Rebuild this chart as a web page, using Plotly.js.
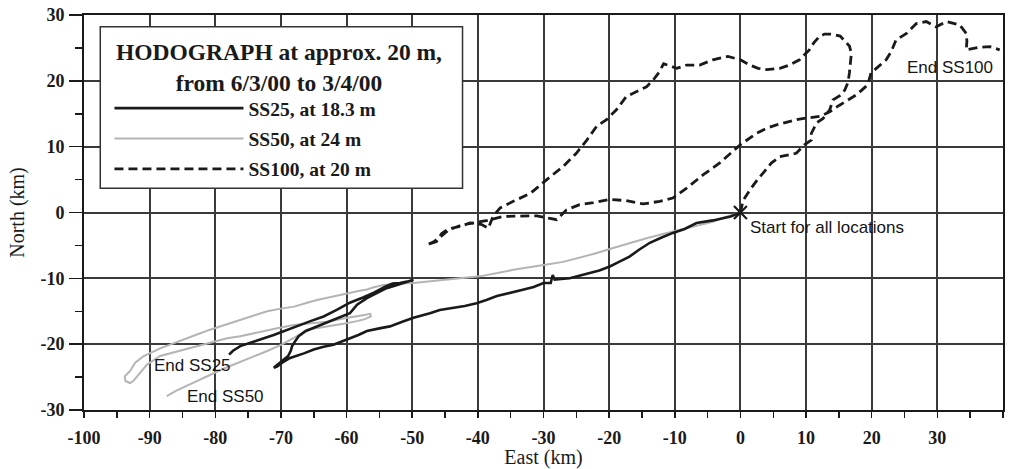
<!DOCTYPE html>
<html>
<head>
<meta charset="utf-8">
<script src="https://cdn.plot.ly/plotly-3.0.1.min.js"></script>
<style>
  html, body { margin: 0; padding: 0; background: #fff; }
  #chart { width: 1011px; height: 469px; }
</style>
</head>
<body>
<div id="chart"></div>
<script>
// ---- Data (km) ----
const ss25East = [0, -1.5, -4.2, -6.7, -8.5, -10.3, -12, -13.8, -15.5, -16.9, -18.5, -19.9, -21.5, -22.9, -24.5, -26, -27.3, -28.3, -28.6, -28.9, -30, -31.5, -33, -35, -37.1, -38.7, -40.2, -42, -43.7, -45.8, -47.3, -49.8, -51.5, -53.4, -55, -56.9, -58.2, -59.5, -60.8, -62, -63.5, -65, -66.5, -67.6, -68.6, -69.8, -70.6, -71.1, -70.4, -69.5, -68.9, -68.5, -68.3, -67.8, -67.3, -66.2, -65, -63.5, -62, -60.8, -59.5, -58.9, -58.4, -56.9, -55.4, -53.9, -52.3, -50.8, -49.8, -50.8, -51.9, -53, -54.2, -55.9, -57.5, -59.5, -61.5, -63.5, -65.5, -67.6, -69.3, -71.1, -73.5, -76.2, -77.3, -77.9];
const ss25North = [0, -0.6, -1.2, -1.6, -2.5, -3.1, -3.8, -4.6, -5.7, -6.7, -7.5, -8.2, -8.8, -9.2, -9.6, -10, -10.1, -10.2, -9.5, -10.7, -10.7, -11.3, -11.7, -12.2, -12.7, -13.3, -13.8, -14.2, -14.5, -14.8, -15.3, -16, -16.6, -17.3, -17.6, -18, -18.6, -19.1, -19.6, -20.1, -20.4, -20.8, -21.4, -21.8, -22.1, -22.8, -23.4, -23.6, -23, -22.3, -21.8, -21, -20.3, -19.5, -18.8, -18, -17.5, -16.9, -16.3, -15.8, -15.3, -14.6, -14, -13, -12.2, -11.5, -11, -10.5, -10.2, -10.5, -10.7, -10.8, -11.3, -12.2, -12.9, -13.7, -14.8, -15.8, -16.5, -17.3, -17.9, -18.6, -19.4, -20.3, -21, -21.6];

const ss50East = [0, -2, -4.2, -6.5, -9.2, -11.5, -14.3, -16.8, -19.4, -22, -24.5, -27, -29.5, -32, -34.6, -37, -39.7, -42, -44.7, -47, -49.8, -52, -54.4, -56, -56.9, -58, -59.5, -61, -63, -64.5, -66, -68, -70, -72.1, -74, -76.2, -78.5, -80.8, -83, -85.8, -88.3, -90.9, -92.2, -93, -93.8, -93.7, -93, -92.5, -91.9, -90.4, -88.4, -85.8, -83, -80.8, -78.2, -76.2, -73.2, -71.1, -68.1, -66, -63, -60.5, -59, -57.5, -56.4, -56.3, -57.2, -58.4, -60.5, -62.5, -64, -66, -68.1, -70, -72, -74, -76.2, -78.2, -80, -82, -84.3, -86, -87.4];
const ss50North = [0, -0.6, -1.4, -2, -2.6, -3.2, -3.9, -4.6, -5.4, -6.2, -6.9, -7.5, -7.9, -8.3, -8.7, -9.2, -9.7, -9.9, -10.2, -10.4, -10.7, -10.8, -11, -11.4, -11.7, -11.9, -12.2, -12.6, -13, -13.3, -13.7, -14.3, -14.6, -15, -15.6, -16.3, -17, -17.8, -18.6, -19.6, -20.6, -21.8, -22.8, -24.1, -24.9, -25.6, -25.9, -25.6, -24.9, -23.1, -21.8, -21.1, -20.4, -19.8, -19.1, -18.8, -18.1, -17.7, -17.1, -16.9, -16.6, -16.1, -15.9, -15.6, -15.4, -15.8, -16.2, -16.5, -16.9, -17.2, -17.4, -17.8, -19.1, -20.1, -21, -21.8, -22.6, -23.5, -24.3, -25.2, -26.3, -27.1, -27.9];

const ss100East = [0, 0.4, 1.5, 2.6, 3.7, 4.7, 6, 7.3, 8.5, 9.8, 10.8, 10.8, 11.6, 12.6, 13.6, 14.1, 15.2, 15.9, 16.4, 16.6, 16.9, 16.6, 16.1, 15.2, 13.9, 12.8, 12, 11.2, 10.5, 9, 7.5, 6, 4, 2.7, 1.4, 0, -1.9, -4.2, -6.2, -8.2, -9.7, -11.7, -12.4, -13.3, -14.3, -16, -17.4, -18.9, -20.4, -21.9, -23.4, -25, -27, -29.5, -32, -34.6, -36.6, -37.7, -38.4, -39.5, -41.2, -42.7, -44.5, -45.5, -46.3, -47.8, -46.8, -45.8, -44.5, -42.5, -40.2, -38.5, -36.1, -33.6, -31, -29, -28, -26.5, -24.5, -22.4, -19.9, -17.4, -14.8, -12.3, -10.3, -8.2, -5.7, -3.2, -1.5, 0, 2.4, 4, 5.5, 7.5, 9, 12.1, 13.6, 15.1, 17.7, 19.4, 19.9, 20.7, 22.2, 23, 23.7, 25.3, 26.8, 28.3, 29.8, 31.4, 33.4, 34.4, 34.5, 34.4, 36.4, 38, 39.5];
const ss100North = [0, 1.8, 3.5, 5, 6.3, 7.5, 8.5, 8.8, 9, 10.3, 11, 12, 13.6, 14.3, 15.6, 17.1, 17.8, 18.6, 19.8, 21.2, 24.2, 25.3, 25.9, 26.8, 27.1, 27.1, 26.7, 25.8, 24.7, 23.2, 22.4, 21.9, 21.7, 21.9, 22.4, 23.2, 23.7, 23.2, 22.4, 22.4, 21.9, 22.6, 21.3, 20.1, 19.1, 18.3, 17.6, 15.6, 14.1, 13.1, 11, 9, 7, 5, 2.9, 1.7, 0.7, -0.6, -2.4, -1.8, -1.6, -2.1, -2.5, -3.2, -4.4, -4.9, -4.5, -3.8, -2.7, -1.9, -1.5, -1.2, -0.6, -0.5, -0.5, -0.9, -1.1, 0.4, 1.2, 1.5, 2, 1.8, 1.3, 1.7, 2.2, 3.7, 5.7, 7.5, 9, 10.3, 12, 12.8, 13.3, 13.8, 14.2, 14.6, 15.3, 16.3, 17.9, 19.4, 21.2, 21.9, 23.2, 24.5, 26.2, 27.2, 28.7, 29, 28.2, 29, 28.5, 27.2, 26, 24.7, 25.1, 25.2, 24.7];

const startEast = [0];
const startNorth = [0];

const seriesNames = ["SS25, at 18.3 m", "SS50, at 24 m", "SS100, at 20 m"];
const legendTitle = "HODOGRAPH at approx. 20 m,<br>from 6/3/00 to 3/4/00";
const labelTexts = ["Start for all locations", "End SS100", "End SS25", "End SS50"];

const xTickVals = [-100, -90, -80, -70, -60, -50, -40, -30, -20, -10, 0, 10, 20, 30, 40];
const xTickText = ["-100", "-90", "-80", "-70", "-60", "-50", "-40", "-30", "-20", "-10", "0", "10", "20", "30", "40"];
const yTickVals = [-30, -20, -10, 0, 10, 20, 30];
const yTickText = ["-30", "-20", "-10", "0", "10", "20", "30"];

const xTitle = "East (km)";
const yTitle = "North (km)";

// ---- Styling ----
const SERIF = "Liberation Serif, Times New Roman, serif";
const SANS = "Liberation Sans, Arial, sans-serif";
const INK = "#1a1a1a";
const last = a => a[a.length - 1];

const traces = [
  {
    type: "scatter", mode: "lines", name: seriesNames[1],
    x: ss50East, y: ss50North, legendrank: 2, legendgroup: "b",
    line: { color: "#b4b4b4", width: 2 }
  },
  {
    type: "scatter", mode: "lines", name: seriesNames[0],
    x: ss25East, y: ss25North, legendrank: 1, legendgroup: "a",
    line: { color: INK, width: 2.6 }
  },
  {
    type: "scatter", mode: "lines", name: seriesNames[2],
    x: ss100East, y: ss100North, legendrank: 3, legendgroup: "c",
    line: { color: INK, width: 2.8, dash: "9px,5px" }
  },
  {
    type: "scatter", mode: "markers", showlegend: false,
    x: startEast, y: startNorth,
    marker: { symbol: "x-thin", size: 13, color: INK, line: { width: 2.2, color: INK } }
  }
];

const labelFont = { family: SANS, size: 17, color: "#151515" };

const layout = {
  width: 1011, height: 469,
  margin: { l: 84, r: 8, t: 15, b: 59 },
  paper_bgcolor: "#fff", plot_bgcolor: "#fff",
  font: { family: SERIF, color: INK },
  showlegend: true,
  legend: {
    x: 0.0277, y: 0.8127, xanchor: "left", yanchor: "top",
    bgcolor: "rgba(0,0,0,0)", borderwidth: 0,
    itemwidth: 129, tracegroupgap: 2,
    font: { family: SERIF, size: 19.5, weight: 700, color: INK }
  },
  xaxis: {
    range: [-100, 40], tickmode: "array", tickvals: xTickVals, ticktext: xTickText,
    showgrid: true, gridcolor: "#3a3a3a", gridwidth: 2, zeroline: false,
    showline: true, mirror: true, linecolor: INK, linewidth: 2,
    ticks: "outside", ticklen: 6, tickwidth: 1.5, tickcolor: INK,
    ticklabelstandoff: 4,
    minor: { tickmode: "linear", tick0: 0, dtick: 5, ticks: "outside", ticklen: 6, tickwidth: 1.5, tickcolor: INK, showgrid: false },
    tickfont: { family: SERIF, size: 18, weight: 700, color: INK },
    title: { text: xTitle, font: { family: SERIF, size: 20, color: INK }, standoff: 10 },
    fixedrange: true
  },
  yaxis: {
    range: [-30, 30], tickmode: "array", tickvals: yTickVals, ticktext: yTickText,
    showgrid: true, gridcolor: "#3a3a3a", gridwidth: 2, zeroline: false,
    showline: true, mirror: true, linecolor: INK, linewidth: 2,
    ticks: "outside", ticklen: 13, tickwidth: 1.5, tickcolor: INK,
    ticklabelstandoff: 1,
    minor: { tickmode: "linear", tick0: 0, dtick: 5, ticks: "outside", ticklen: 7, tickwidth: 1.5, tickcolor: INK, showgrid: false },
    tickfont: { family: SERIF, size: 18, weight: 700, color: INK },
    title: { text: yTitle, font: { family: SERIF, size: 20, color: INK }, standoff: 10 },
    fixedrange: true
  },
  shapes: [
    {
      type: "rect", xref: "paper", yref: "paper", layer: "above",
      x0: 0.0177, x1: 0.4119, y0: 0.5613, y1: 0.9704,
      line: { color: "#333", width: 1.5 }, fillcolor: "#fff"
    }
  ],
  annotations: [
    {
      xref: "paper", yref: "paper", x: 0.212, y: 0.868, xanchor: "center", yanchor: "middle",
      text: legendTitle, showarrow: false, align: "center",
      font: { family: SERIF, size: 23.5, weight: 700, color: INK }
    },
    {
      x: startEast[0], y: startNorth[0], xref: "x", yref: "y", xanchor: "left", yanchor: "middle",
      xshift: 8, yshift: -15, text: labelTexts[0], showarrow: false, font: labelFont
    },
    {
      x: last(ss100East), y: last(ss100North), xref: "x", yref: "y", xanchor: "right", yanchor: "middle",
      xshift: -5, yshift: -18, text: labelTexts[1], showarrow: false, font: labelFont
    },
    {
      x: last(ss25East), y: last(ss25North), xref: "x", yref: "y", xanchor: "right", yanchor: "middle",
      xshift: 4, yshift: -11, text: labelTexts[2], showarrow: false, font: labelFont
    },
    {
      x: last(ss50East), y: last(ss50North), xref: "x", yref: "y", xanchor: "left", yanchor: "middle",
      xshift: 18, yshift: 0, text: labelTexts[3], showarrow: false, font: labelFont
    }
  ]
};

Plotly.newPlot("chart", traces, layout, { displayModeBar: false, staticPlot: true });
</script>
</body>
</html>
